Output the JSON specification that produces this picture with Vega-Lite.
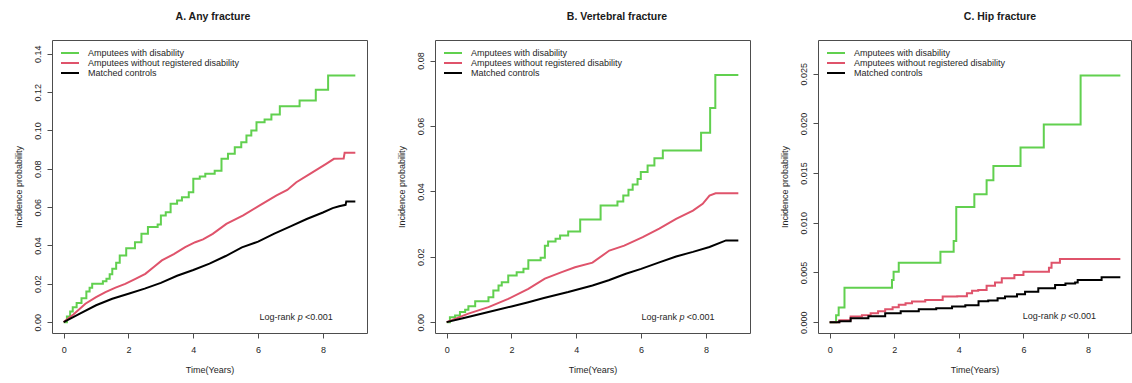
{
  "$schema": "https://vega.github.io/schema/vega-lite/v6.json",
  "padding": {"left": 13, "top": 11, "right": 0, "bottom": 0},
  "spacing": 68,
  "bounds": "flush",
  "resolve": {"scale": {"color": "independent", "x": "independent", "y": "independent"}, "legend": {"color": "independent"}},
  "config": {
    "font": "Liberation Sans",
    "view": {"stroke": "#4d4d4d", "strokeWidth": 1},
    "axis": {"domain": false, "grid": false, "tickColor": "#4d4d4d", "tickSize": 5, "tickWidth": 1, "labelFontSize": 9, "labelColor": "#262626", "titleFontSize": 9, "titleFontWeight": "normal", "titleColor": "#262626", "labelFlush": false, "labelOverlap": false},
    "axisX": {"labelPadding": 7, "titlePadding": 11, "labelAngle": 0},
    "axisY": {"labelAngle": -90, "labelAlign": "center", "labelBaseline": "bottom", "labelPadding": 5, "titlePadding": 10},
    "title": {"fontSize": 10.5, "fontWeight": "bold", "color": "#1a1a1a", "anchor": "middle", "frame": "group", "baseline": "alphabetic", "offset": 18},
    "legend": {"orient": "top-left", "offset": 8, "padding": 0, "labelFontSize": 9, "labelColor": "#262626", "symbolType": "M-1,0L3.5,0", "symbolSize": 64, "symbolStrokeWidth": 2, "labelOffset": 18, "rowPadding": 0},
    "line": {"strokeWidth": 2},
    "text": {"fontSize": 9, "color": "#262626", "baseline": "middle"}
  },
  "datasets": {
    "A_dis": [{"t":0,"p":0},{"t":0.1,"p":0.003},{"t":0.2,"p":0.0055},{"t":0.28,"p":0.0078},{"t":0.4,"p":0.01},{"t":0.55,"p":0.0125},{"t":0.7,"p":0.016},{"t":0.8,"p":0.018},{"t":0.88,"p":0.02},{"t":1.21,"p":0.0213},{"t":1.32,"p":0.0226},{"t":1.42,"p":0.025},{"t":1.5,"p":0.0279},{"t":1.62,"p":0.031},{"t":1.73,"p":0.0348},{"t":1.93,"p":0.0385},{"t":2.2,"p":0.0417},{"t":2.4,"p":0.0461},{"t":2.6,"p":0.0496},{"t":2.9,"p":0.051},{"t":3.0,"p":0.0557},{"t":3.15,"p":0.0574},{"t":3.3,"p":0.0618},{"t":3.5,"p":0.0635},{"t":3.65,"p":0.0652},{"t":3.86,"p":0.0678},{"t":4.0,"p":0.0748},{"t":4.2,"p":0.076},{"t":4.37,"p":0.0774},{"t":4.66,"p":0.079},{"t":4.87,"p":0.0852},{"t":5.07,"p":0.0878},{"t":5.28,"p":0.0913},{"t":5.48,"p":0.0939},{"t":5.64,"p":0.0974},{"t":5.79,"p":0.1},{"t":5.95,"p":0.1043},{"t":6.2,"p":0.1057},{"t":6.41,"p":0.1083},{"t":6.67,"p":0.1127},{"t":7.28,"p":0.1157},{"t":7.78,"p":0.1212},{"t":8.16,"p":0.1287},{"t":9.0,"p":0.1287}],
    "A_nodis": [{"t":0,"p":0},{"t":0.3,"p":0.004},{"t":0.67,"p":0.0096},{"t":1.0,"p":0.013},{"t":1.29,"p":0.0157},{"t":1.6,"p":0.018},{"t":1.9,"p":0.02},{"t":2.2,"p":0.0225},{"t":2.52,"p":0.0252},{"t":2.8,"p":0.029},{"t":3.03,"p":0.0322},{"t":3.4,"p":0.0355},{"t":3.75,"p":0.0391},{"t":4.06,"p":0.0417},{"t":4.3,"p":0.0432},{"t":4.6,"p":0.0461},{"t":5.02,"p":0.0513},{"t":5.54,"p":0.0557},{"t":6.05,"p":0.0609},{"t":6.57,"p":0.0661},{"t":6.9,"p":0.069},{"t":7.18,"p":0.073},{"t":7.6,"p":0.0774},{"t":7.85,"p":0.08},{"t":8.1,"p":0.0826},{"t":8.34,"p":0.0852},{"t":8.64,"p":0.0854},{"t":8.67,"p":0.0884},{"t":9.0,"p":0.0884}],
    "A_ctrl": [{"t":0,"p":0},{"t":0.5,"p":0.0045},{"t":1.0,"p":0.0088},{"t":1.5,"p":0.0122},{"t":2.0,"p":0.0148},{"t":2.5,"p":0.0175},{"t":3.0,"p":0.0205},{"t":3.5,"p":0.0242},{"t":4.0,"p":0.0272},{"t":4.5,"p":0.0305},{"t":5.0,"p":0.0345},{"t":5.5,"p":0.039},{"t":6.0,"p":0.042},{"t":6.5,"p":0.0462},{"t":7.0,"p":0.05},{"t":7.5,"p":0.0538},{"t":8.0,"p":0.0572},{"t":8.3,"p":0.0595},{"t":8.5,"p":0.0605},{"t":8.7,"p":0.0612},{"t":8.72,"p":0.063},{"t":9.0,"p":0.063}],
    "B_dis": [{"t":0,"p":0},{"t":0.1,"p":0.0015},{"t":0.26,"p":0.002},{"t":0.41,"p":0.0031},{"t":0.57,"p":0.0038},{"t":0.67,"p":0.0049},{"t":0.88,"p":0.0064},{"t":1.29,"p":0.0076},{"t":1.44,"p":0.0097},{"t":1.6,"p":0.0112},{"t":1.7,"p":0.0122},{"t":1.9,"p":0.0143},{"t":2.16,"p":0.0153},{"t":2.37,"p":0.0163},{"t":2.52,"p":0.0189},{"t":2.9,"p":0.0197},{"t":3.03,"p":0.0234},{"t":3.13,"p":0.0247},{"t":3.36,"p":0.0255},{"t":3.5,"p":0.0265},{"t":3.75,"p":0.0277},{"t":4.12,"p":0.0314},{"t":4.75,"p":0.0357},{"t":5.27,"p":0.0369},{"t":5.45,"p":0.0387},{"t":5.61,"p":0.0405},{"t":5.74,"p":0.0421},{"t":5.89,"p":0.0438},{"t":5.99,"p":0.0459},{"t":6.2,"p":0.0479},{"t":6.41,"p":0.0501},{"t":6.67,"p":0.0525},{"t":7.85,"p":0.0579},{"t":8.13,"p":0.0655},{"t":8.29,"p":0.0756},{"t":9.0,"p":0.0756}],
    "B_nodis": [{"t":0,"p":0},{"t":0.67,"p":0.0026},{"t":1.29,"p":0.0046},{"t":1.9,"p":0.0071},{"t":2.52,"p":0.0102},{"t":3.03,"p":0.0133},{"t":3.55,"p":0.0153},{"t":3.96,"p":0.0168},{"t":4.5,"p":0.0182},{"t":5.02,"p":0.0219},{"t":5.48,"p":0.0234},{"t":6.05,"p":0.026},{"t":6.56,"p":0.0286},{"t":7.08,"p":0.0316},{"t":7.6,"p":0.0341},{"t":7.9,"p":0.0362},{"t":8.11,"p":0.0387},{"t":8.3,"p":0.0394},{"t":9.0,"p":0.0394}],
    "B_ctrl": [{"t":0,"p":0},{"t":0.5,"p":0.0012},{"t":1.29,"p":0.0031},{"t":2.0,"p":0.0048},{"t":2.52,"p":0.0061},{"t":3.0,"p":0.0074},{"t":3.75,"p":0.0092},{"t":4.5,"p":0.0112},{"t":5.0,"p":0.0128},{"t":5.53,"p":0.0148},{"t":6.0,"p":0.0163},{"t":6.56,"p":0.0183},{"t":7.08,"p":0.0201},{"t":7.6,"p":0.0215},{"t":8.11,"p":0.023},{"t":8.62,"p":0.025},{"t":9.0,"p":0.025}],
    "C_dis": [{"t":0,"p":0},{"t":0.2,"p":0.0007},{"t":0.28,"p":0.00147},{"t":0.46,"p":0.00347},{"t":1.93,"p":0.00425},{"t":1.98,"p":0.00508},{"t":2.14,"p":0.00598},{"t":3.43,"p":0.00709},{"t":3.84,"p":0.00816},{"t":3.92,"p":0.0116},{"t":4.48,"p":0.01288},{"t":4.86,"p":0.01429},{"t":5.07,"p":0.01572},{"t":5.91,"p":0.01757},{"t":6.63,"p":0.01988},{"t":7.77,"p":0.02483},{"t":9.0,"p":0.02483}],
    "C_nodis": [{"t":0,"p":0},{"t":0.3,"p":0.0002},{"t":0.65,"p":0.00056},{"t":1.0,"p":0.0007},{"t":1.27,"p":0.0009},{"t":1.5,"p":0.0011},{"t":1.72,"p":0.0013},{"t":1.95,"p":0.0015},{"t":2.14,"p":0.00174},{"t":2.35,"p":0.0019},{"t":2.55,"p":0.00207},{"t":2.96,"p":0.00224},{"t":3.5,"p":0.00257},{"t":3.95,"p":0.0026},{"t":4.25,"p":0.0029},{"t":4.41,"p":0.00317},{"t":4.6,"p":0.00324},{"t":4.86,"p":0.00367},{"t":5.12,"p":0.00398},{"t":5.33,"p":0.00442},{"t":5.72,"p":0.00475},{"t":6.0,"p":0.00508},{"t":6.79,"p":0.00548},{"t":6.87,"p":0.00598},{"t":7.13,"p":0.00636},{"t":9.0,"p":0.00636}],
    "C_ctrl": [{"t":0,"p":0},{"t":0.3,"p":0.0001},{"t":0.65,"p":0.0004},{"t":1.2,"p":0.0006},{"t":1.72,"p":0.0009},{"t":2.2,"p":0.0011},{"t":2.76,"p":0.0013},{"t":3.3,"p":0.0014},{"t":3.79,"p":0.00157},{"t":4.2,"p":0.0017},{"t":4.61,"p":0.0021},{"t":4.91,"p":0.00217},{"t":5.2,"p":0.0024},{"t":5.43,"p":0.00257},{"t":5.8,"p":0.0028},{"t":6.05,"p":0.00307},{"t":6.46,"p":0.00341},{"t":6.98,"p":0.00375},{"t":7.3,"p":0.0039},{"t":7.6,"p":0.004},{"t":7.68,"p":0.00425},{"t":8.42,"p":0.00452},{"t":9.0,"p":0.00452}]
  },
  "hconcat": [
    {
      "width": 315, "height": 293,
      "title": {"text": "A. Any fracture", "dx": 3.5},
      "layer": [
        {"data": {"name": "A_dis"}, "mark": {"type": "line", "interpolate": "step-after"}, "encoding": {
          "x": {"field": "t", "type": "quantitative", "scale": {"domain": [-0.36, 9.36], "nice": false, "zero": false}, "axis": {"title": "Time(Years)", "values": [0, 2, 4, 6, 8]}},
          "y": {"field": "p", "type": "quantitative", "scale": {"domain": [-0.00566, 0.1472], "nice": false, "zero": false}, "axis": {"title": "Incidence probability", "values": [0, 0.02, 0.04, 0.06, 0.08, 0.1, 0.12, 0.14], "format": ".2f"}},
          "color": {"datum": "Amputees with disability", "type": "nominal", "scale": {"domain": ["Amputees with disability", "Amputees without registered disability", "Matched controls"], "range": ["#61D04F", "#DF536B", "#000000"]}, "legend": {"title": null}}}},
        {"data": {"name": "A_nodis"}, "mark": {"type": "line"}, "encoding": {"x": {"field": "t", "type": "quantitative"}, "y": {"field": "p", "type": "quantitative"}, "color": {"datum": "Amputees without registered disability", "type": "nominal"}}},
        {"data": {"name": "A_ctrl"}, "mark": {"type": "line"}, "encoding": {"x": {"field": "t", "type": "quantitative"}, "y": {"field": "p", "type": "quantitative"}, "color": {"datum": "Matched controls", "type": "nominal"}}},
        {"data": {"values": [{}]}, "mark": {"type": "text", "align": "right", "text": "Log-rank"}, "encoding": {"x": {"datum": 7.14, "type": "quantitative"}, "y": {"datum": 0.0026, "type": "quantitative"}}},
        {"data": {"values": [{}]}, "mark": {"type": "text", "align": "center", "fontStyle": "italic", "text": "p"}, "encoding": {"x": {"datum": 7.3, "type": "quantitative"}, "y": {"datum": 0.0026, "type": "quantitative"}}},
        {"data": {"values": [{}]}, "mark": {"type": "text", "align": "left", "text": "<0.001"}, "encoding": {"x": {"datum": 7.45, "type": "quantitative"}, "y": {"datum": 0.0026, "type": "quantitative"}}}
      ]
    },
    {
      "width": 315, "height": 293,
      "title": {"text": "B. Vertebral fracture", "dx": 24.5},
      "layer": [
        {"data": {"name": "B_dis"}, "mark": {"type": "line", "interpolate": "step-after"}, "encoding": {
          "x": {"field": "t", "type": "quantitative", "scale": {"domain": [-0.36, 9.36], "nice": false, "zero": false}, "axis": {"title": "Time(Years)", "values": [0, 2, 4, 6, 8]}},
          "y": {"field": "p", "type": "quantitative", "scale": {"domain": [-0.00332, 0.0863], "nice": false, "zero": false}, "axis": {"title": "Incidence probability", "values": [0, 0.02, 0.04, 0.06, 0.08], "format": ".2f"}},
          "color": {"datum": "Amputees with disability", "type": "nominal", "scale": {"domain": ["Amputees with disability", "Amputees without registered disability", "Matched controls"], "range": ["#61D04F", "#DF536B", "#000000"]}, "legend": {"title": null}}}},
        {"data": {"name": "B_nodis"}, "mark": {"type": "line"}, "encoding": {"x": {"field": "t", "type": "quantitative"}, "y": {"field": "p", "type": "quantitative"}, "color": {"datum": "Amputees without registered disability", "type": "nominal"}}},
        {"data": {"name": "B_ctrl"}, "mark": {"type": "line"}, "encoding": {"x": {"field": "t", "type": "quantitative"}, "y": {"field": "p", "type": "quantitative"}, "color": {"datum": "Matched controls", "type": "nominal"}}},
        {"data": {"values": [{}]}, "mark": {"type": "text", "align": "right", "text": "Log-rank"}, "encoding": {"x": {"datum": 7.11, "type": "quantitative"}, "y": {"datum": 0.0017, "type": "quantitative"}}},
        {"data": {"values": [{}]}, "mark": {"type": "text", "align": "center", "fontStyle": "italic", "text": "p"}, "encoding": {"x": {"datum": 7.26, "type": "quantitative"}, "y": {"datum": 0.0017, "type": "quantitative"}}},
        {"data": {"values": [{}]}, "mark": {"type": "text", "align": "left", "text": "<0.001"}, "encoding": {"x": {"datum": 7.41, "type": "quantitative"}, "y": {"datum": 0.0017, "type": "quantitative"}}}
      ]
    },
    {
      "width": 313, "height": 293,
      "title": {"text": "C. Hip fracture", "dx": 25.5},
      "layer": [
        {"data": {"name": "C_dis"}, "mark": {"type": "line", "interpolate": "step-after"}, "encoding": {
          "x": {"field": "t", "type": "quantitative", "scale": {"domain": [-0.36, 9.33], "nice": false, "zero": false}, "axis": {"title": "Time(Years)", "values": [0, 2, 4, 6, 8]}},
          "y": {"field": "p", "type": "quantitative", "scale": {"domain": [-0.00109, 0.02839], "nice": false, "zero": false}, "axis": {"title": "Incidence probability", "values": [0, 0.005, 0.01, 0.015, 0.02, 0.025], "format": ".3f"}},
          "color": {"datum": "Amputees with disability", "type": "nominal", "scale": {"domain": ["Amputees with disability", "Amputees without registered disability", "Matched controls"], "range": ["#61D04F", "#DF536B", "#000000"]}, "legend": {"title": null}}}},
        {"data": {"name": "C_nodis"}, "mark": {"type": "line", "interpolate": "step-after"}, "encoding": {"x": {"field": "t", "type": "quantitative"}, "y": {"field": "p", "type": "quantitative"}, "color": {"datum": "Amputees without registered disability", "type": "nominal"}}},
        {"data": {"name": "C_ctrl"}, "mark": {"type": "line", "interpolate": "step-after"}, "encoding": {"x": {"field": "t", "type": "quantitative"}, "y": {"field": "p", "type": "quantitative"}, "color": {"datum": "Matched controls", "type": "nominal"}}},
        {"data": {"values": [{}]}, "mark": {"type": "text", "align": "right", "text": "Log-rank"}, "encoding": {"x": {"datum": 7.08, "type": "quantitative"}, "y": {"datum": 0.00063, "type": "quantitative"}}},
        {"data": {"values": [{}]}, "mark": {"type": "text", "align": "center", "fontStyle": "italic", "text": "p"}, "encoding": {"x": {"datum": 7.24, "type": "quantitative"}, "y": {"datum": 0.00063, "type": "quantitative"}}},
        {"data": {"values": [{}]}, "mark": {"type": "text", "align": "left", "text": "<0.001"}, "encoding": {"x": {"datum": 7.39, "type": "quantitative"}, "y": {"datum": 0.00063, "type": "quantitative"}}}
      ]
    }
  ]
}
